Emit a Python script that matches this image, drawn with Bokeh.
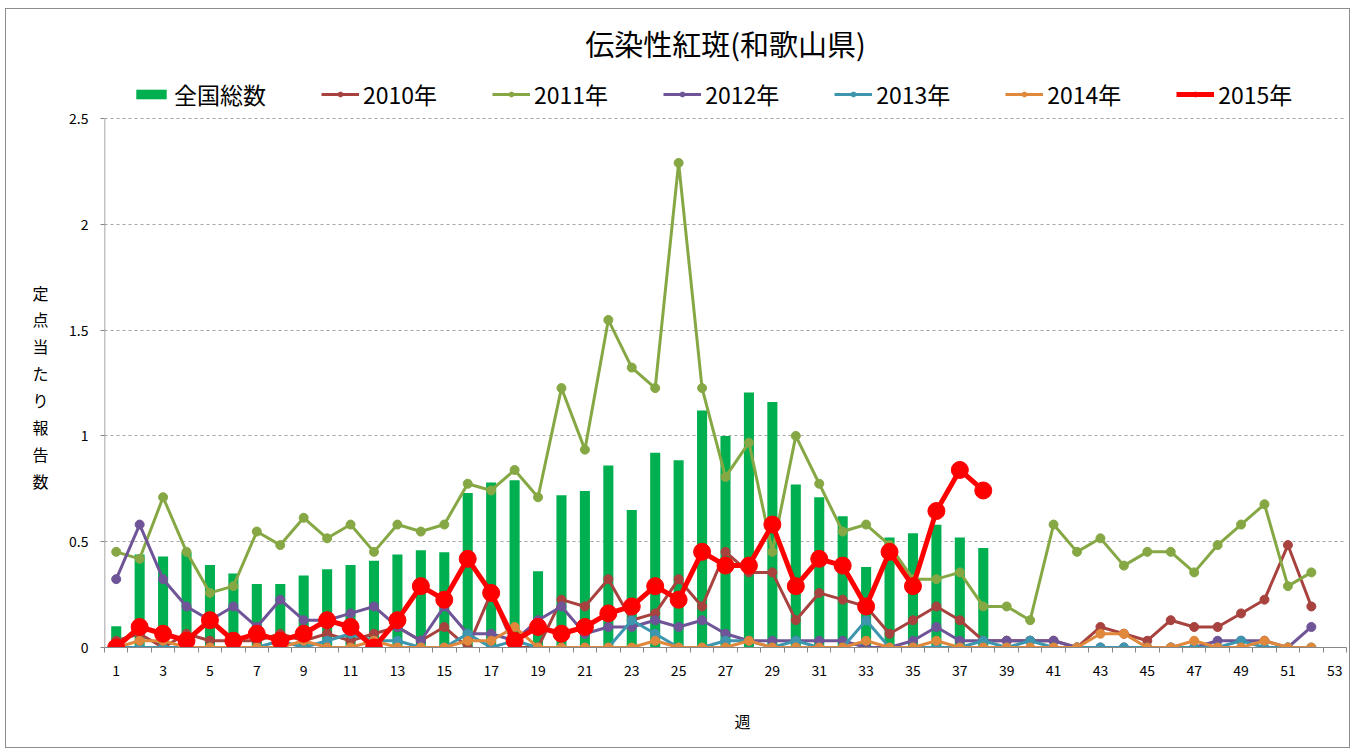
from bokeh.plotting import figure
from bokeh.models import Range1d, FixedTicker, Legend, LegendItem, NumeralTickFormatter, LinearAxis
from bokeh.embed import file_html
from bokeh.resources import INLINE

weeks = list(range(1, 53))
bar_weeks = list(range(1, 39))

national = [0.10, 0.44, 0.43, 0.45, 0.39, 0.35, 0.30, 0.30, 0.34, 0.37,
            0.39, 0.41, 0.44, 0.46, 0.45, 0.73, 0.78, 0.79, 0.36, 0.72,
            0.74, 0.86, 0.65, 0.92, 0.885, 1.12, 1.00, 1.205, 1.16, 0.77,
            0.71, 0.62, 0.38, 0.52, 0.54, 0.58, 0.52, 0.47]

y2010 = [0.032, 0.065, 0.0, 0.065, 0.032, 0.032, 0.032, 0.065, 0.032, 0.065,
         0.032, 0.065, 0.097, 0.032, 0.097, 0.0, 0.258, 0.0, 0.0, 0.226,
         0.194, 0.323, 0.129, 0.161, 0.323, 0.194, 0.452, 0.355, 0.355, 0.129,
         0.258, 0.226, 0.194, 0.065, 0.129, 0.194, 0.129, 0.032, 0.032, 0.032,
         0.032, 0.0, 0.097, 0.065, 0.032, 0.129, 0.097, 0.097, 0.161, 0.226,
         0.484, 0.194]

y2011 = [0.452, 0.419, 0.71, 0.452, 0.258, 0.29, 0.548, 0.484, 0.613, 0.516,
         0.581, 0.452, 0.581, 0.548, 0.581, 0.774, 0.742, 0.839, 0.71, 1.226,
         0.935, 1.548, 1.323, 1.226, 2.29, 1.226, 0.806, 0.968, 0.452, 1.0,
         0.774, 0.548, 0.581, 0.484, 0.323, 0.323, 0.355, 0.194, 0.194, 0.129,
         0.581, 0.452, 0.516, 0.387, 0.452, 0.452, 0.355, 0.484, 0.581, 0.677,
         0.29, 0.355]

y2012 = [0.323, 0.581, 0.323, 0.194, 0.129, 0.194, 0.097, 0.226, 0.129, 0.129,
         0.161, 0.194, 0.097, 0.032, 0.194, 0.065, 0.065, 0.032, 0.129, 0.194,
         0.065, 0.097, 0.097, 0.129, 0.097, 0.129, 0.065, 0.032, 0.032, 0.032,
         0.032, 0.032, 0.0, 0.0, 0.032, 0.097, 0.032, 0.032, 0.032, 0.032,
         0.032, 0.0, 0.0, 0.0, 0.0, 0.0, 0.0, 0.032, 0.032, 0.032,
         0.0, 0.097]

y2013 = [0.0, 0.0, 0.0, 0.0, 0.0, 0.0, 0.0, 0.032, 0.0, 0.032,
         0.065, 0.032, 0.032, 0.0, 0.0, 0.065, 0.0, 0.032, 0.0, 0.0,
         0.0, 0.0, 0.129, 0.065, 0.0, 0.0, 0.032, 0.032, 0.0, 0.032,
         0.0, 0.0, 0.129, 0.0, 0.0, 0.0, 0.0, 0.032, 0.0, 0.032,
         0.0, 0.0, 0.0, 0.0, 0.0, 0.0, 0.0, 0.0, 0.032, 0.0,
         0.0, 0.0]

y2014 = [0.0, 0.032, 0.032, 0.0, 0.0, 0.0, 0.0, 0.0, 0.032, 0.0,
         0.0, 0.032, 0.0, 0.0, 0.0, 0.032, 0.032, 0.097, 0.0, 0.0,
         0.0, 0.0, 0.0, 0.032, 0.0, 0.0, 0.0, 0.032, 0.0, 0.0,
         0.0, 0.0, 0.032, 0.0, 0.0, 0.032, 0.0, 0.0, 0.0, 0.0,
         0.0, 0.0, 0.065, 0.065, 0.0, 0.0, 0.032, 0.0, 0.0, 0.032,
         0.0, 0.0]

y2015 = [0.0, 0.097, 0.065, 0.032, 0.129, 0.032, 0.065, 0.032, 0.065, 0.129,
         0.097, 0.0, 0.129, 0.29, 0.226, 0.419, 0.258, 0.032, 0.097, 0.065,
         0.097, 0.161, 0.194, 0.29, 0.226, 0.452, 0.387, 0.387, 0.581, 0.29,
         0.419, 0.387, 0.194, 0.452, 0.29, 0.645, 0.839, 0.742]

series = [
    ("2010年", y2010, "#A8423F"),
    ("2011年", y2011, "#86A844"),
    ("2012年", y2012, "#6F5597"),
    ("2013年", y2013, "#3D96AE"),
    ("2014年", y2014, "#E0883B"),
]

x_ticks = list(range(1, 54, 2))
x_minor = [i + 0.5 for i in range(0, 54)]
y_ticks = [0, 0.5, 1, 1.5, 2, 2.5]

title_text = "伝染性紅斑(和歌山県)"
y_title = "定点当たり報告数"
x_title = "週"

JP = "Noto Sans CJK JP"

# frame spans page y 70..647; value axis 0..2.5 occupies 118..647, the band above holds the legend
PX_PER_UNIT = 529 / 2.5
y_top = 2.5 + (118 - 70) / PX_PER_UNIT

p = figure(width=1345, height=740, output_backend="svg", toolbar_location=None,
           x_range=Range1d(0.5, 53.5), y_range=Range1d(0, y_top),
           min_border_left=98, min_border_right=5, min_border_top=61,
           min_border_bottom=102)
p.styles = {"border": "1px solid #8c8c8c", "margin-left": "5px", "margin-top": "8px"}
p.outline_line_color = None
p.background_fill_color = "white"
p.border_fill_color = "white"

p.title.text = title_text
p.title.align = "center"
p.title.text_font = JP
p.title.text_font_size = "29px"
p.title.text_font_style = "normal"
p.title.text_color = "black"
p.title.standoff = 13

p.xgrid.visible = False
p.ygrid.grid_line_color = "#A6A6A6"
p.ygrid.grid_line_dash = "3 3"
p.ygrid.grid_line_width = 1

p.xaxis.ticker = FixedTicker(ticks=x_ticks, minor_ticks=x_minor)
p.xaxis.axis_line_color = "#868686"
p.xaxis.major_tick_line_color = None
p.xaxis.major_tick_out = 0
p.xaxis.major_tick_in = 0
p.xaxis.minor_tick_line_color = "#868686"
p.xaxis.minor_tick_out = 5
p.xaxis.minor_tick_in = 0
p.xaxis.major_label_standoff = 12
p.xaxis.major_label_text_font = JP
p.xaxis.major_label_text_font_size = "14px"
p.xaxis.major_label_text_color = "black"

p.yaxis.ticker = FixedTicker(ticks=y_ticks)
p.yaxis.formatter = NumeralTickFormatter(format="0.[0]")
p.yaxis.axis_line_color = None
p.yaxis.major_tick_line_color = "#868686"
p.yaxis.major_tick_out = 4
p.yaxis.major_tick_in = 0
p.yaxis.minor_tick_line_color = None
p.yaxis.major_label_standoff = 12
p.yaxis.major_label_text_font = JP
p.yaxis.major_label_text_font_size = "14px"
p.yaxis.major_label_text_color = "black"

# value-axis line only over the 0..2.5 span
p.segment(x0=[p.x_range.start], y0=[y_ticks[0]], x1=[p.x_range.start], y1=[y_ticks[-1]],
          line_color="#868686", line_width=1.5)

# stacked vertical y title, drawn as the tick labels of an extra, line-less axis
p.extra_y_ranges = {"ylab": Range1d(start=(647 - 292) / 26.9, end=(70 - 292) / 26.9)}
ylab_axis = LinearAxis(y_range_name="ylab",
                       ticker=FixedTicker(ticks=list(range(len(y_title)))),
                       major_label_overrides={i: ch for i, ch in enumerate(y_title)},
                       axis_line_color=None, major_tick_line_color=None,
                       minor_tick_line_color=None, major_tick_out=0, major_tick_in=0,
                       major_label_standoff=18, major_label_text_font=JP,
                       major_label_text_font_size="16px", major_label_text_color="black")
p.add_layout(ylab_axis, "left")

# x title, as the single tick label of an extra, line-less axis
p.extra_x_ranges = {"xlab": Range1d(start=104 - 742, end=1346 - 742)}
xlab_axis = LinearAxis(x_range_name="xlab", ticker=FixedTicker(ticks=[0]),
                       major_label_overrides={0: x_title},
                       axis_line_color=None, major_tick_line_color=None,
                       minor_tick_line_color=None, major_tick_out=0, major_tick_in=0,
                       major_label_standoff=30, major_label_text_font=JP,
                       major_label_text_font_size="16px", major_label_text_color="black")
p.add_layout(xlab_axis, "below")

bars = p.vbar(x=bar_weeks, top=national, width=0.43, fill_color="#00B050",
              line_color=None)

items = [LegendItem(label="全国総数", renderers=[bars])]
for name, vals, col in series:
    ln = p.line(weeks, vals, line_color=col, line_width=3)
    sc = p.scatter(weeks, vals, size=9, fill_color=col, line_color=col)
    items.append(LegendItem(label=name, renderers=[ln, sc]))

ln15 = p.line(bar_weeks, y2015, line_color="#FF0000", line_width=5)
sc15 = p.scatter(bar_weeks, y2015, size=17, fill_color="#FF0000", line_color="#FF0000")
items.append(LegendItem(label="2015年", renderers=[ln15, sc15]))

legend = Legend(items=items, orientation="horizontal", location=(28, 536),
                glyph_width=38, glyph_height=12, label_standoff=4, spacing=55,
                padding=0, margin=0, border_line_color=None,
                background_fill_alpha=0, label_text_font=JP,
                label_text_font_size="23px", label_text_color="black")
p.add_layout(legend, "center")

open("out.html", "w").write(file_html(p, INLINE))
